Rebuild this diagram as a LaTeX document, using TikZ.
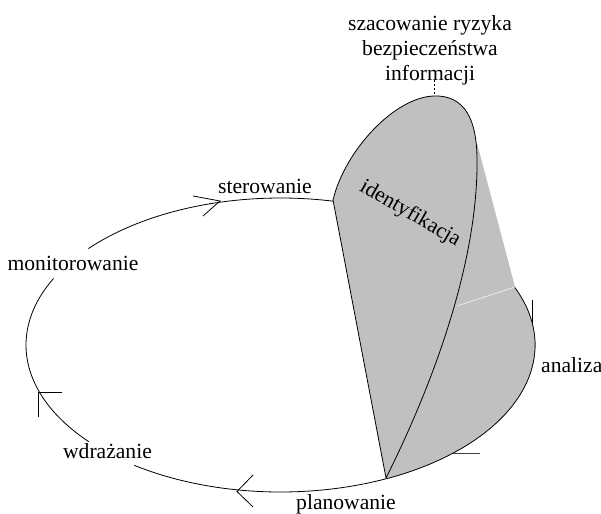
\documentclass[tikz,border=0pt]{standalone}
\usepackage{fontspec}
\setmainfont{Liberation Serif}
\definecolor{lobegray}{RGB}{192,192,192}
\begin{document}
\begin{tikzpicture}[x=1pt,y=-1pt,
  cyc/.style={line width=0.8pt},
  barb/.style={line width=0.8pt},
  lobe/.style={fill=lobegray, draw=black, line width=0.8pt},
  lbl/.style={font=\fontsize{21.6}{25}\selectfont, inner sep=0pt}]
\useasboundingbox (0,0) rectangle (601,513);
% cycle (ellipse) with gaps for labels
\draw[cyc] plot[domain=221:485.1, samples=240] ({280.5+254.5*cos(\x)},{345+147*sin(\x)});
\draw[cyc] plot[domain=138.9:206.9, samples=60] ({280.5+254.5*cos(\x)},{345+147*sin(\x)});
% arrow heads
\coordinate (tipS) at (220,201);
\coordinate (tipL) at (38,392);
\coordinate (tipB) at (237,491.5);
\coordinate (tipR) at (532.6,325);
\coordinate (tipBR) at (453,453);
\draw[barb] (193,196) -- (tipS) -- (203,216);
\draw[barb] (62,392) -- (tipL) -- (38,417);
\draw[barb] (253,475) -- (tipB) -- (253,507);
\draw[barb] (532.6,300) -- (tipR);
\draw[barb, black!75] (480,453) -- (tipBR);
% back lobe
\fill[lobegray] (477,143) -- (515,287) -- plot[domain=-23.2:65.4, samples=80] ({280.5+254.5*cos(\x)},{345+147*sin(\x)}) -- (400,250) -- cycle;
\draw[line width=0.6pt] plot[domain=-23.2:65.4, samples=80] ({280.5+254.5*cos(\x)},{345+147*sin(\x)});
\draw[white, line width=0.5pt] (515,287) -- (457,306);
% front lobe
\path[lobe] (386,478) -- (333,200) .. controls (345,150) and (395,97) .. (434,96)
  .. controls (465,95) and (477,120) .. (477,160)
  .. controls (478,260) and (435,380) .. (386,478) -- cycle;
% dashed marker
\coordinate (top) at (434,96);
\draw[dashed, dash pattern=on 2pt off 2pt, line width=0.6pt] (434,80) -- (top);
% labels
\node[lbl, anchor=base, align=center] (ttl) at (430,81) {szacowanie ryzyka\\bezpieczeństwa\\informacji};
\node[lbl, anchor=base] (ster) at (265,193) {sterowanie};
\node[lbl, anchor=base] (mon) at (73,270) {monitorowanie};
\node[lbl, anchor=base] (wdr) at (107.5,458) {wdrażanie};
\node[lbl, anchor=base] (plan) at (346,509) {planowanie};
\node[lbl, anchor=base west] (anal) at (541,372) {analiza};
\node[lbl, rotate=-30] (ident) at (410,214) {identyfikacja};
\end{tikzpicture}
\end{document}
